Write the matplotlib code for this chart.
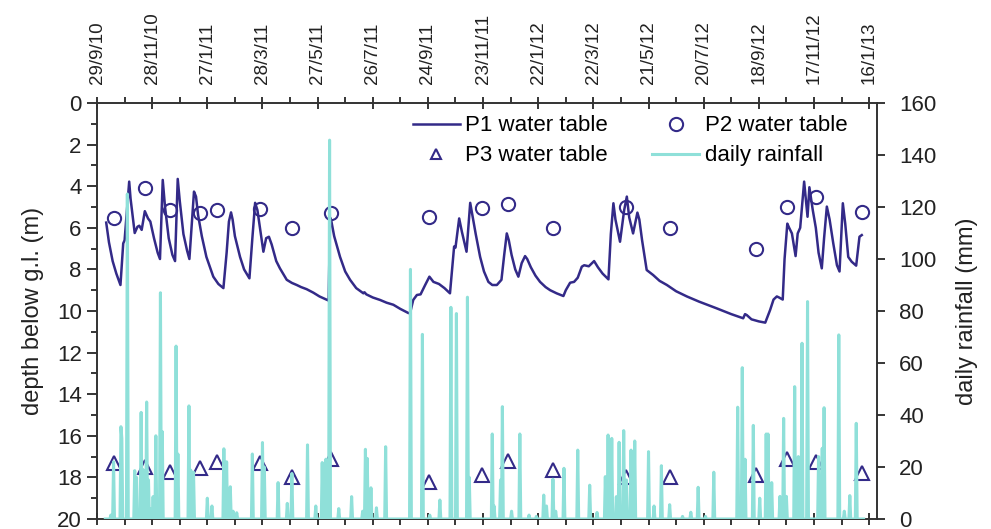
import numpy as np
import matplotlib
matplotlib.use("Agg")
import matplotlib.pyplot as plt
from matplotlib.lines import Line2D

plt.rcParams["font.family"] = ["Liberation Sans", "DejaVu Sans"]

# x values are days after 29/9/10
tick_days = [0, 60, 120, 180, 240, 300, 360, 420, 480, 540, 600, 660, 720, 780, 840]
tick_labels = ["29/9/10", "28/11/10", "27/1/11", "28/3/11", "27/5/11", "26/7/11",
               "24/9/11", "23/11/11", "22/1/12", "22/3/12", "21/5/12", "20/7/12",
               "18/9/12", "17/11/12", "16/1/13"]

# P1 water table (continuous logger), depth below g.l. (m)
p1_day = [10, 13, 17, 21, 25.5, 28.5, 30, 35, 36.5, 41, 44, 46, 48.6, 52, 55.5, 58,
          62, 66, 68.5, 71.5, 74, 78, 82, 84.9, 87.8, 90, 94, 98, 100.5, 105.5,
          107.7, 110, 114, 119, 126.5, 132, 137.5, 141, 143.5, 145.8, 147.5, 150,
          155.6, 160, 165.8, 169, 172, 174.5, 181, 184, 187, 190, 195, 199, 206.4,
          212, 217.3, 222, 228, 235.4, 242, 250.6, 252, 253.5, 255, 258, 264.4, 270,
          275.3, 282, 289.8, 291, 293, 300, 308, 315, 322.4, 330, 338.8, 340.6, 344,
          348, 352, 357, 361.6, 366, 372, 378, 384, 388.5, 390, 394, 397, 402, 406,
          408, 412, 416.8, 421, 425.8, 430, 435, 440, 443, 445.8, 448, 451, 455,
          458.4, 462, 465.7, 468, 472, 477, 482, 488, 493, 500, 507.4, 510, 514.7,
          519, 523, 527.4, 530, 535, 540.8, 545, 550, 556.4, 559, 561.8, 564, 569,
          573.5, 576.4, 579, 583.2, 587.9, 590, 593, 598, 605, 612, 620, 630, 641.7,
          655, 674, 690, 703, 705, 707, 712, 720, 727, 732.3, 736, 739.6, 742, 746,
          748, 751, 753, 756, 760, 762.3, 765, 769.3, 773, 775, 778.7, 782, 785,
          788.5, 791, 794, 797, 801, 805, 807.8, 809.5, 811.4, 814, 817.3, 821,
          825.9, 829.5, 832]
p1_depth = [5.75, 6.7, 7.6, 8.2, 8.75, 6.75, 6.6, 3.78, 4.6, 6.25, 5.95, 5.9, 6.1, 5.2,
            5.55, 5.7, 6.5, 7.2, 7.5, 3.7, 5.0, 6.5, 7.3, 7.6, 3.65, 4.7, 6.3, 7.1,
            7.5, 4.26, 4.5, 5.4, 6.4, 7.4, 8.35, 8.7, 8.9, 7.2, 5.7, 5.26, 5.6, 6.4,
            7.4, 8.0, 8.43, 6.5, 4.8, 5.15, 7.15, 6.5, 6.43, 6.8, 7.6, 7.95, 8.5,
            8.65, 8.75, 8.85, 8.95, 9.12, 9.3, 9.47, 9.5, 5.5, 5.7, 6.4, 7.4, 8.1,
            8.5, 8.9, 9.15, 9.1, 9.2, 9.35, 9.47, 9.6, 9.7, 9.9, 10.1, 10.1, 9.47,
            9.23, 9.2, 8.75, 8.35, 8.6, 8.7, 8.9, 9.15, 6.9, 6.95, 5.55, 6.2, 7.15,
            4.8, 5.3, 6.3, 7.4, 8.1, 8.6, 8.75, 8.75, 8.5, 7.3, 6.27, 6.6, 7.3, 8.0,
            8.35, 7.7, 7.36, 7.5, 7.9, 8.3, 8.6, 8.85, 9.0, 9.15, 9.28, 9.0, 8.64,
            8.6, 8.4, 7.87, 7.8, 7.85, 7.6, 7.9, 8.2, 8.48, 6.3, 4.82, 5.6, 6.67,
            5.15, 4.5, 5.5, 6.27, 5.27, 5.6, 6.6, 8.03, 8.27, 8.55, 8.75, 9.05, 9.3,
            9.55, 9.87, 10.15, 10.35, 10.15, 10.2, 10.4, 10.5, 10.56, 9.95, 9.45, 9.3,
            9.35, 9.45, 7.5, 5.8, 6.0, 6.27, 7.36, 6.27, 6.0, 3.78, 5.47, 4.05, 5.15,
            6.0, 7.2, 7.95, 6.5, 4.98, 5.6, 6.75, 7.8, 8.1, 6.5, 4.82, 5.8, 7.4, 7.63,
            7.82, 6.43, 6.35]

# P2 / P3 manual readings
obs_day = [18, 52, 79, 112, 130, 177, 212, 255, 361, 419, 447, 496, 576, 623, 717,
           751, 782, 832]
p2_depth = [5.55, 4.1, 5.15, 5.3, 5.15, 5.1, 6.0, 5.3, 5.47, 5.06, 4.86, 6.0, 4.98,
            6.0, 7.02, 4.98, 4.5, 5.22]
p3_depth = [17.3, 17.5, 17.75, 17.56, 17.25, 17.3, 18.0, 17.1, 18.2, 17.9, 17.2,
            17.64, 18.0, 18.0, 17.9, 17.1, 17.25, 17.77]

# daily rainfall (mm), days with rain; all other days 0
rain_first, rain_last = 9, 834
rain_day = [15, 18, 26, 27, 33, 41, 43, 48, 50, 54, 56, 58, 61, 64, 69, 71, 86, 88,
            100, 102, 105, 120, 125, 138, 141, 145, 148, 152, 169, 180, 182, 197,
            207, 212, 229, 238, 245, 249, 253, 263, 277, 289, 292, 294, 298, 304,
            314, 341, 354, 362, 373, 385, 391, 403, 405, 430, 432, 439, 441, 451,
            460, 470, 478, 486, 489, 496, 499, 508, 523, 536, 544, 553, 556, 560,
            565, 568, 573, 576, 581, 585, 600, 606, 614, 623, 637, 646, 654, 662,
            671, 697, 702, 705, 714, 721, 728, 730, 734, 743, 747, 750, 759, 763,
            767, 773, 785, 789, 791, 807, 813, 819, 826]
rain_mm = [1.5, 22, 35.5, 31, 125, 18.6, 16, 41, 19, 45, 15, 4, 8.6, 32, 87, 33.6,
           66.5, 25, 43.5, 18.8, 18, 8, 5, 27, 22, 12.4, 3, 2.4, 25, 29.4, 20, 14,
           6, 17.5, 28.5, 5, 21.7, 23, 145.7, 4, 8.6, 3, 26.8, 23.3, 12, 4.3, 27.8,
           96, 71, 1.5, 7.3, 81.4, 79, 85.3, 16, 32.7, 5, 15, 43.2, 3, 32.7, 1.5,
           1, 9.2, 5, 15.3, 3, 19.5, 26.5, 13, 2.5, 16.3, 32.3, 31, 8.6, 29.5, 34,
           15, 26.5, 30, 25.9, 5, 20.5, 5.5, 1, 2.6, 12.2, 1, 18, 43, 58.2, 23, 36,
           8, 32.7, 32.7, 14, 8.7, 38.7, 8.7, 50.9, 24, 67.6, 83.6, 24, 27.2, 42.8,
           70.8, 3, 9, 36.8]

days_all = np.arange(rain_first, rain_last + 1)
rain_all = np.zeros(len(days_all))
rain_all[np.array(rain_day) - rain_first] = rain_mm

navy = "#332a88"
teal = "#8fe0d9"
ink = "#222222"

fig = plt.figure(figsize=(9.91, 5.29), dpi=100)
ax = fig.add_axes([0.0979, 0.0189, 0.787, 0.7864])

ax.plot(obs_day, p2_depth, "o", ms=9.5, mfc="none", mec=navy, mew=1.5)
ax.plot(obs_day, p3_depth, "^", ms=9.5, mfc="none", mec=navy, mew=1.5)
ax.plot(p1_day, p1_depth, color=navy, lw=1.8)

ax.set_xlim(0, 848.5)
ax.set_ylim(20, 0)
ax.set_yticks(np.arange(0, 21, 2))
ax.set_yticks(np.arange(1, 20, 2), minor=True)
ax.set_xticks(tick_days)
ax.set_xticklabels(tick_labels, rotation=90, fontsize=13.5, color=ink)
ax.set_xticks(np.arange(30, 848, 60), minor=True)
ax.xaxis.set_ticks_position("both")
ax.tick_params(axis="x", which="both", labeltop=True, labelbottom=False, pad=9)
ax.tick_params(axis="x", which="major", direction="inout", length=9, width=1.1)
ax.tick_params(axis="x", which="minor", direction="out", length=4.5, width=1.1)
ax.tick_params(axis="y", which="major", direction="out", length=7, width=1.1,
               labelsize=16, labelcolor=ink, pad=4)
ax.tick_params(axis="y", which="minor", direction="out", length=4, width=1.1)
ax.set_ylabel("depth below g.l. (m)", fontsize=17, color=ink, labelpad=9)

ax2 = ax.twinx()
ax2.plot(days_all, rain_all, color=teal, lw=2.2, zorder=3)
ax2.set_ylim(0, 160)
ax2.set_yticks(np.arange(0, 161, 20))
ax2.tick_params(axis="y", direction="out", length=6, width=1.1, labelsize=16,
                labelcolor=ink, pad=10)
ax2.set_ylabel("daily rainfall (mm)", fontsize=17, color=ink, labelpad=14)

for a in (ax, ax2):
    for s in a.spines.values():
        s.set_color("#333333")
        s.set_linewidth(1.2)

handles = [
    Line2D([], [], color=navy, lw=1.8),
    Line2D([], [], ls="none", marker="^", ms=7, mfc="none", mec=navy, mew=1.5),
    Line2D([], [], ls="none", marker="o", ms=9.5, mfc="none", mec=navy, mew=1.5),
    Line2D([], [], color=teal, lw=2.2),
]
labels = ["P1 water table", "P3 water table", "P2 water table", "daily rainfall"]
ax2.legend(handles, labels, ncol=2, loc="upper left", bbox_to_anchor=(0.405, 0.97),
           frameon=False, fontsize=16, handlelength=2.1, handletextpad=0.25,
           columnspacing=2.0, labelspacing=0.4, borderpad=0, borderaxespad=0)

fig.savefig("out.png", dpi=100)
